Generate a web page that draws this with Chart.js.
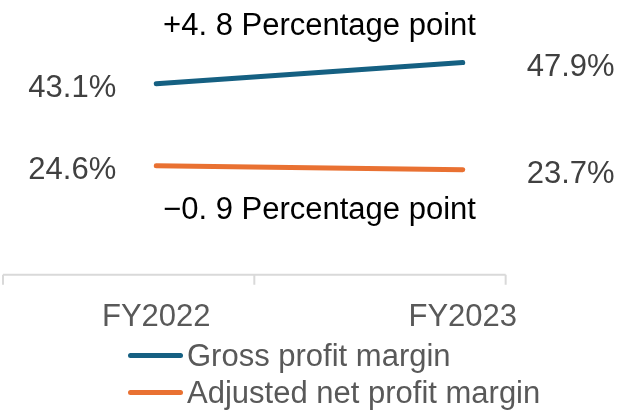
<!DOCTYPE html>
<html>
<head>
<meta charset="utf-8">
<script src="https://cdn.jsdelivr.net/npm/chart.js@4"></script>
<style>
  html, body { margin: 0; padding: 0; background: #fff; }
  #wrap { position: relative; width: 635px; height: 412px; }
  #legend { position: absolute; left: 128px; top: 337px; font-family: "Liberation Sans", Arial, sans-serif; font-size: 31px; color: #595959; }
  .row { display: flex; align-items: center; height: 37px; }
  .swatch { width: 55px; height: 5px; border-radius: 3px; margin-right: 4px; }
</style>
</head>
<body>
<div id="wrap">
  <canvas id="chart" width="635" height="412"></canvas>
  <div id="legend"></div>
</div>
<script>
const years = ["FY2022", "FY2023"];
const seriesNames = ["Gross profit margin", "Adjusted net profit margin"];
const grossMargin = [43.1, 47.9];
const netMargin = [24.6, 23.7];
const changeLabels = ["+4. 8 Percentage point", "\u22120. 9 Percentage point"];
const colors = ["#156082", "#E97132"];

const FONT = '"Liberation Sans", Arial, sans-serif';

// value labels at both ends + change note above/below each line
const labelPlugin = {
  id: "labels",
  afterDatasetsDraw(chart) {
    const ctx = chart.ctx;
    ctx.save();
    ctx.font = "31px " + FONT;
    ctx.textBaseline = "middle";
    chart.data.datasets.forEach((ds, i) => {
      const pts = chart.getDatasetMeta(i).data;
      ctx.fillStyle = "#404040";
      ctx.textAlign = "right";
      ctx.fillText(ds.data[0].toFixed(1) + "%", pts[0].x - 40, pts[0].y + 5);
      ctx.textAlign = "left";
      ctx.fillText(ds.data[1].toFixed(1) + "%", pts[1].x + 64, pts[1].y + 5);

      const midX = (pts[0].x + pts[1].x) / 2 + 10;
      const midY = (pts[0].y + pts[1].y) / 2;
      ctx.fillStyle = "#000";
      ctx.textAlign = "center";
      ctx.fillText(changeLabels[i], midX, i === 0 ? midY - 47 : midY + 43);
    });
    ctx.restore();
  }
};

// short baseline with three ticks, like the original
const baselinePlugin = {
  id: "baseline",
  beforeDatasetsDraw(chart) {
    const { ctx, chartArea } = chart;
    const y = chart.scales.y.getPixelForValue(0);
    const w = chartArea.right - chartArea.left;
    const xs = [0, 0.41, 0.82].map(f => chartArea.left + f * w);
    ctx.save();
    ctx.strokeStyle = "#d9d9d9";
    ctx.lineWidth = 2;
    ctx.beginPath();
    ctx.moveTo(xs[0], y);
    ctx.lineTo(xs[2], y);
    xs.forEach(x => { ctx.moveTo(x, y); ctx.lineTo(x, y + 10); });
    ctx.stroke();
    ctx.restore();
  }
};

new Chart(document.getElementById("chart"), {
  type: "line",
  data: {
    labels: years,
    datasets: [
      { label: seriesNames[0], data: grossMargin, borderColor: colors[0] },
      { label: seriesNames[1], data: netMargin, borderColor: colors[1] }
    ]
  },
  options: {
    responsive: false,
    animation: false,
    layout: { padding: { left: 3, right: 19, top: 9, bottom: 52 } },
    elements: {
      line: { borderWidth: 5, borderCapStyle: "round", tension: 0 },
      point: { radius: 0 }
    },
    plugins: { legend: { display: false }, tooltip: { enabled: false } },
    scales: {
      x: {
        offset: true,
        grid: { display: false, drawTicks: false },
        border: { display: false },
        ticks: { color: "#595959", font: { family: FONT, size: 31 }, padding: 24 }
      },
      y: {
        display: false,
        min: 0,
        max: 60
      }
    }
  },
  plugins: [labelPlugin, baselinePlugin]
});

const legend = document.getElementById("legend");
seriesNames.forEach((name, i) => {
  const row = document.createElement("div");
  row.className = "row";
  row.innerHTML = `<span class="swatch" style="background:${colors[i]}"></span><span>${name}</span>`;
  legend.appendChild(row);
});
</script>
</body>
</html>
